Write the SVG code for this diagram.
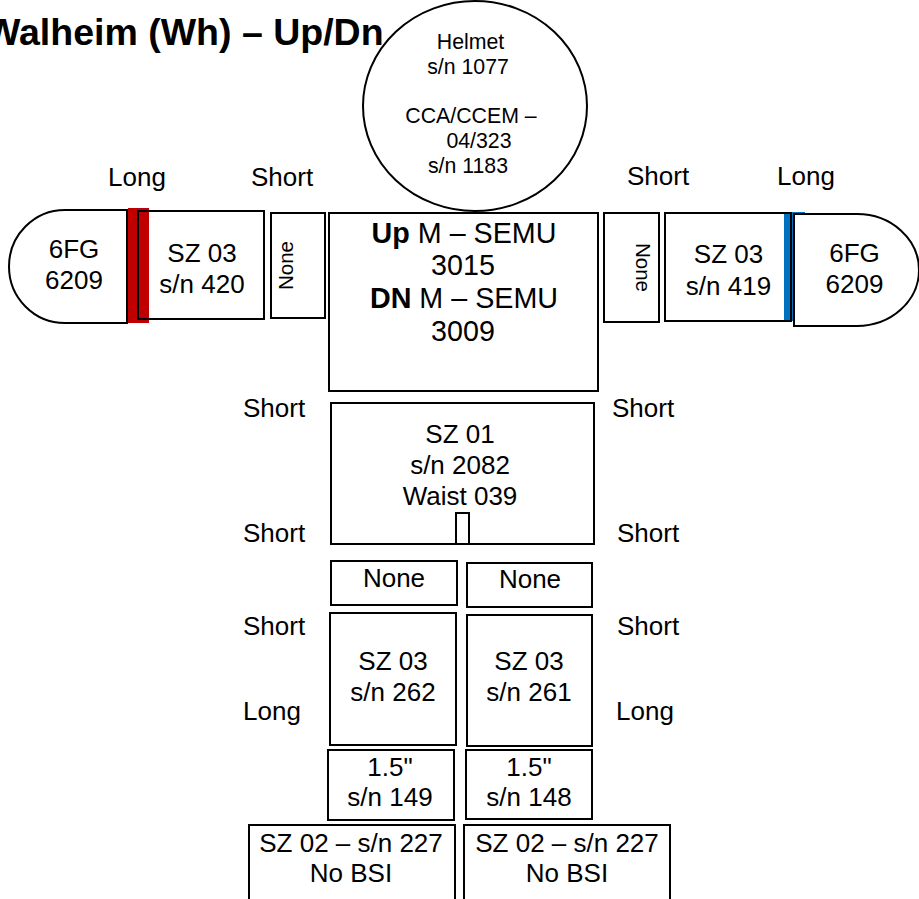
<svg xmlns="http://www.w3.org/2000/svg" width="919" height="899" viewBox="0 0 919 899">
<style>
.box{fill:#fff;stroke:#000;stroke-width:2}
.fill{fill:#fff;stroke:none}
.line{fill:none;stroke:#000;stroke-width:2}
.t{font-family:"Liberation Sans",Arial,sans-serif;font-size:26px;fill:#000;text-anchor:middle}
.l{font-family:"Liberation Sans",Arial,sans-serif;font-size:26px;fill:#000}
.h{font-family:"Liberation Sans",Arial,sans-serif;font-size:21.3px;fill:#000;text-anchor:middle}
.v{font-family:"Liberation Sans",Arial,sans-serif;font-size:20.5px;fill:#000;text-anchor:middle}
.m{font-family:"Liberation Sans",Arial,sans-serif;font-size:28.7px;fill:#000;text-anchor:middle}
</style>
<rect width="919" height="899" fill="#fff"/>
<text x="-15" y="45" font-family="Liberation Sans, Arial, sans-serif" font-size="37.5" font-weight="bold">Walheim (Wh) – Up/Dn</text>

<g id="labels">
<text class="l" x="108" y="186">Long</text>
<text class="l" x="251" y="186">Short</text>
<text class="l" x="627" y="185">Short</text>
<text class="l" x="777" y="185">Long</text>
<text class="l" x="243" y="417">Short</text>
<text class="l" x="612" y="417">Short</text>
<text class="l" x="243" y="542">Short</text>
<text class="l" x="617" y="542">Short</text>
<text class="l" x="243" y="635">Short</text>
<text class="l" x="617" y="635">Short</text>
<text class="l" x="243" y="720">Long</text>
<text class="l" x="616" y="720">Long</text>
</g>

<g id="helmet">
<ellipse class="box" cx="475" cy="106" rx="112" ry="105"/>
<text class="h" x="470.5" y="49">Helmet</text>
<text class="h" x="468" y="74">s/n 1077</text>
<text class="h" x="471" y="123">CCA/CCEM –</text>
<text class="h" x="479" y="148">04/323</text>
<text class="h" x="468" y="173">s/n 1183</text>
</g>

<g id="left-glove">
<path class="box" d="M127,210 H65 A56,56.5 0 0 0 65,323 H127 Z"/>
<text class="t" x="74" y="258">6FG</text>
<text class="t" x="74" y="289">6209</text>
</g>
<g id="left-arm">
<rect class="fill" x="138" y="211" width="126" height="108"/>
<rect x="128" y="208" width="21" height="115" fill="#C00000"/>
<rect class="line" x="138" y="211" width="126" height="108"/>
<text class="t" x="202" y="262">SZ 03</text>
<text class="t" x="202" y="293">s/n 420</text>
</g>
<g id="left-shoulder">
<rect class="box" x="271" y="213" width="54" height="105"/>
<text class="v" transform="translate(293,265.5) rotate(-90)">None</text>
</g>

<g id="torso">
<rect class="box" x="329" y="213" width="269" height="178"/>
<text class="m" x="464" y="243"><tspan font-weight="bold">Up</tspan> M – SEMU</text>
<text class="m" x="463" y="275">3015</text>
<text class="m" x="464" y="308"><tspan font-weight="bold">DN</tspan> M – SEMU</text>
<text class="m" x="463" y="341">3009</text>
</g>

<g id="right-shoulder">
<rect class="box" x="604" y="213" width="55" height="109"/>
<text class="v" transform="translate(636,267.5) rotate(90)">None</text>
</g>
<g id="right-arm">
<rect class="fill" x="665" y="213" width="126" height="108"/>
<rect x="784" y="212" width="21" height="109" fill="#0070C0"/>
<rect class="line" x="665" y="213" width="126" height="108"/>
<text class="t" x="728.5" y="263">SZ 03</text>
<text class="t" x="728.5" y="295">s/n 419</text>
</g>
<g id="right-glove">
<path class="box" d="M794,214 H857 A62,56 0 0 1 857,326 H794 Z"/>
<text class="t" x="854.5" y="262">6FG</text>
<text class="t" x="854.5" y="293">6209</text>
</g>

<g id="lower-torso">
<rect class="box" x="331" y="403" width="263" height="141"/>
<rect class="line" x="456" y="513" width="13" height="31"/>
<text class="t" x="460" y="443">SZ 01</text>
<text class="t" x="460" y="474">s/n 2082</text>
<text class="t" x="460" y="505">Waist 039</text>
</g>

<g id="left-hip">
<rect class="box" x="331" y="561" width="126" height="44"/>
<text class="t" x="394" y="587">None</text>
</g>
<g id="right-hip">
<rect class="box" x="467" y="563" width="125" height="44"/>
<text class="t" x="530" y="588">None</text>
</g>

<g id="left-leg">
<rect class="box" x="330" y="613" width="126" height="132"/>
<text class="t" x="393" y="670">SZ 03</text>
<text class="t" x="393" y="701">s/n 262</text>
</g>
<g id="right-leg">
<rect class="box" x="467" y="615" width="125" height="131"/>
<text class="t" x="529" y="670">SZ 03</text>
<text class="t" x="529" y="701">s/n 261</text>
</g>

<g id="left-ankle">
<rect class="box" x="328" y="750" width="126" height="70"/>
<text class="t" x="390" y="776">1.5"</text>
<text class="t" x="390" y="806">s/n 149</text>
</g>
<g id="right-ankle">
<rect class="box" x="466" y="750" width="126" height="69"/>
<text class="t" x="529" y="776">1.5"</text>
<text class="t" x="529" y="806">s/n 148</text>
</g>

<g id="left-boot">
<rect class="box" x="249" y="825" width="206" height="90"/>
<text class="t" x="351" y="852">SZ 02 – s/n 227</text>
<text class="t" x="351" y="882">No BSI</text>
</g>
<g id="right-boot">
<rect class="box" x="464" y="825" width="206" height="90"/>
<text class="t" x="567" y="852">SZ 02 – s/n 227</text>
<text class="t" x="567" y="882">No BSI</text>
</g>

<g id="connectors"/>
</svg>
